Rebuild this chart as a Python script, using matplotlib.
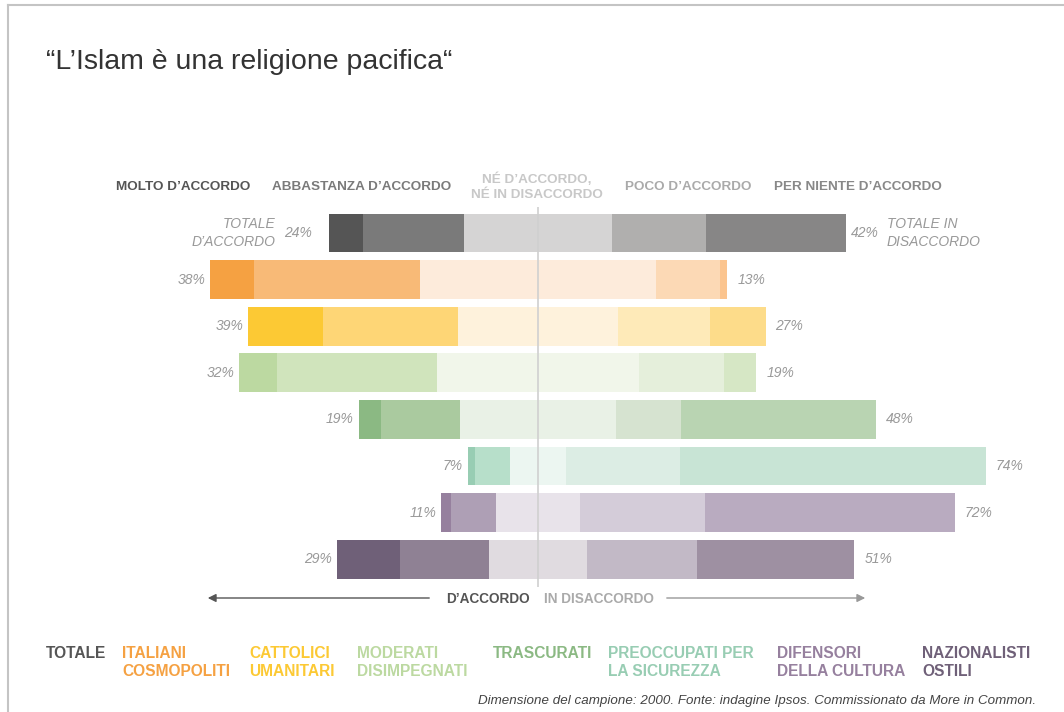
import matplotlib
matplotlib.use("Agg")
import matplotlib.pyplot as plt
from matplotlib.lines import Line2D

plt.rcParams['font.family'] = ['Liberation Sans', 'DejaVu Sans']

W, H = 1064, 712

# segment widths (share of each bar, as drawn)
GROUPS = ["TOTALE", "ITALIANI\nCOSMOPOLITI", "CATTOLICI\nUMANITARI", "MODERATI\nDISIMPEGNATI",
          "TRASCURATI", "PREOCCUPATI PER\nLA SICUREZZA", "DIFENSORI\nDELLA CULTURA", "NAZIONALISTI\nOSTILI"]
MOLTO = [6.6, 8.5, 14.5, 7.2, 4.3, 1.5, 1.9, 12.2]
ABBASTANZA = [19.5, 32.1, 26.1, 31.1, 15.3, 6.6, 8.7, 17.2]
NEUTRO = [28.8, 45.5, 30.9, 38.9, 30.2, 11.0, 16.2, 19.0]
POCO = [18.0, 12.4, 17.8, 16.6, 12.6, 21.9, 24.2, 21.3]
PER_NIENTE = [27.1, 1.5, 10.8, 6.2, 37.7, 59.2, 48.4, 30.4]
TOT_ACCORDO = [24, 38, 39, 32, 19, 7, 11, 29]
TOT_DISACCORDO = [42, 13, 27, 19, 48, 74, 72, 51]

CATEGORIES = ["MOLTO D\u2019ACCORDO", "ABBASTANZA D\u2019ACCORDO", "N\u00c9 D\u2019ACCORDO,\nN\u00c9 IN DISACCORDO",
              "POCO D\u2019ACCORDO", "PER NIENTE D\u2019ACCORDO"]

COLORS = [
    ["#555555", "#7a7a7a", "#d5d4d4", "#b0afae", "#878686"],
    ["#f5a142", "#f8ba77", "#fdebdb", "#fcd9b5", "#fbc48e"],
    ["#fcc934", "#fed676", "#fef2dc", "#feeab8", "#fddc8a"],
    ["#bcd9a1", "#d0e4bc", "#f1f6ea", "#e5efdb", "#d6e7c5"],
    ["#8bb983", "#aaca9f", "#e9f1e6", "#d6e3d0", "#b9d4b2"],
    ["#98cdb3", "#b7dfca", "#ecf6f1", "#dcede4", "#c8e4d5"],
    ["#96809e", "#ae9fb5", "#e8e3ea", "#d4ccd9", "#b9abc0"],
    ["#6f6078", "#8f8194", "#e0dbe0", "#c2b9c6", "#9e90a2"],
]
LEGEND_COLORS = ["#555555", "#f5a142", "#fcc934", "#bcd9a1", "#8bb983", "#98cdb3", "#96809e", "#6f6078"]

PX = 5.17      # pixels per percent
CX = 538       # centre line
Y0, PITCH = 233, 46.6


def fx(px):
    return px / W


def fy(py):
    return 1 - py / H


fig = plt.figure(figsize=(W / 100, H / 100), dpi=100)
ax = fig.add_axes([0, 0, 1, 1])
ax.set_xlim(-CX / PX, (W - CX) / PX)
ax.set_ylim((H - Y0) / PITCH, -Y0 / PITCH)
ax.axis('off')

pct = dict(fontsize=10, style='italic', color='#999999')
for i in range(len(GROUPS)):
    segs = [MOLTO[i], ABBASTANZA[i], NEUTRO[i], POCO[i], PER_NIENTE[i]]
    left = -(MOLTO[i] + ABBASTANZA[i] + NEUTRO[i] / 2)
    start = left
    for v, c in zip(segs, COLORS[i]):
        ax.barh(i, v, left=start, height=0.83, color=c, linewidth=0)
        start += v
    right = start
    if i == 0:
        ax.text(left - 3.2, i, f"{TOT_ACCORDO[i]}%", ha='right', va='center', **pct)
        ax.text(left - 10.2, i, "TOTALE\nD\u2019ACCORDO", ha='right', va='center',
                linespacing=1.3, **pct)
        ax.text(right + 1.0, i, f"{TOT_DISACCORDO[i]}%", ha='left', va='center', **pct)
        ax.text(right + 8.0, i, "TOTALE IN\nDISACCORDO", ha='left', va='center',
                linespacing=1.3, **pct)
    else:
        ax.text(left - 1.0, i, f"{TOT_ACCORDO[i]}%", ha='right', va='center', **pct)
        ax.text(right + 1.9, i, f"{TOT_DISACCORDO[i]}%", ha='left', va='center', **pct)

# centre line
ax.vlines(0, (207 - Y0) / PITCH, (587 - Y0) / PITCH, color='#d0d0d0', lw=1.2, zorder=5)

# title
fig.text(fx(46), fy(62), "\u201cL\u2019Islam \u00e8 una religione pacifica\u201c", fontsize=20.5,
         color='#333333', ha='left', va='center')

# header categories
head_x = [116, 272, 537, 625, 774]
head_col = ['#555555', '#7a7a7a', '#c8c8c8', '#aaaaaa', '#888888']
for k, (lab, x, c) in enumerate(zip(CATEGORIES, head_x, head_col)):
    fig.text(fx(x), fy(187), lab, fontsize=9.7, fontweight='bold', color=c,
             ha='center' if k == 2 else 'left', va='center', linespacing=1.3)

# arrows
ax.annotate("", xy=(fx(205), fy(598)), xytext=(fx(432), fy(598)), xycoords='figure fraction',
            arrowprops=dict(arrowstyle='-|>', color='#555555', lw=1.0, mutation_scale=12))
ax.annotate("", xy=(fx(868), fy(598)), xytext=(fx(664), fy(598)), xycoords='figure fraction',
            arrowprops=dict(arrowstyle='-|>', color='#999999', lw=1.0, mutation_scale=12))
fig.text(fx(530), fy(599), "D\u2019ACCORDO", fontsize=9.8, fontweight='bold', color='#555555',
         ha='right', va='center')
fig.text(fx(544), fy(599), "IN DISACCORDO", fontsize=9.8, fontweight='bold', color='#aaaaaa',
         ha='left', va='center')

# legend of groups
leg_x = [46, 122, 249, 357, 493, 608, 777, 922]
for lab, x, c in zip(GROUPS, leg_x, LEGEND_COLORS):
    fig.text(fx(x), fy(646), lab, fontsize=11.2, fontweight='bold', color=c,
             ha='left', va='top', linespacing=1.25)

fig.text(fx(1036), fy(701), "Dimensione del campione: 2000. Fonte: indagine Ipsos. "
         "Commissionato da More in Common.", fontsize=9.6, style='italic', color='#444444',
         ha='right', va='center')

# frame
fig.add_artist(Line2D([fx(8), 1], [fy(5), fy(5)], color='#c4c4c4', lw=1.5))
fig.add_artist(Line2D([fx(8), fx(8)], [fy(5), 0], color='#c4c4c4', lw=1.5))

fig.savefig("out.png", dpi=100, facecolor='white')
